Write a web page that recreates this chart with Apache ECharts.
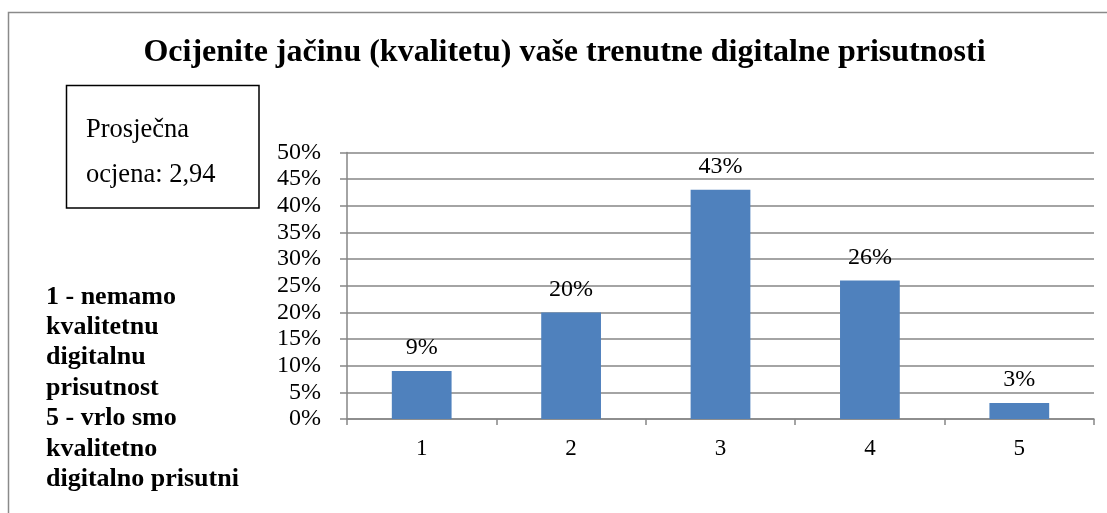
<!DOCTYPE html>
<html>
<head>
<meta charset="utf-8">
<script src="https://cdn.jsdelivr.net/npm/echarts@6/dist/echarts.min.js"></script>
<style>
  html, body { margin: 0; padding: 0; background: #fff; }
  #chart { width: 1107px; height: 513px; }
</style>
</head>
<body>
<div id="chart"></div>
<script>
// Survey: self-rated strength of current digital presence (1-5 scale)
const categories = ['1', '2', '3', '4', '5'];
const shares = [9, 20, 43, 26, 3];
const yTicks = { min: 0, max: 50, interval: 5 };
const titleText = 'Ocijenite jačinu (kvalitetu) vaše trenutne digitalne prisutnosti';
const averageLines = ['Prosječna', 'ocjena: 2,94'];
const scaleNote = ['1 - nemamo', 'kvalitetnu', 'digitalnu', 'prisutnost', '5 - vrlo smo', 'kvalitetno', 'digitalno prisutni'];

const serif = '"Liberation Serif", "Times New Roman", serif';
const gridColor = '#868686';

const chart = echarts.init(document.getElementById('chart'), null, { renderer: 'canvas' });

chart.setOption({
  backgroundColor: '#fff',
  animation: false,
  grid: { left: 347, right: 13, top: 152.5, bottom: 94, containLabel: false },
  xAxis: {
    type: 'category',
    data: categories,
    axisLine: { show: true, lineStyle: { color: gridColor, width: 1.5 } },
    axisTick: { show: true, length: 6, alignWithLabel: false, lineStyle: { color: gridColor, width: 1.5 } },
    axisLabel: { color: '#000', fontFamily: serif, fontSize: 23, margin: 18 }
  },
  yAxis: {
    type: 'value',
    min: yTicks.min,
    max: yTicks.max,
    interval: yTicks.interval,
    axisLine: { show: true, lineStyle: { color: gridColor, width: 1.5 } },
    axisTick: { show: true, length: 7, lineStyle: { color: gridColor, width: 1.5 } },
    splitLine: { show: true, lineStyle: { color: gridColor, width: 1.5 } },
    axisLabel: { color: '#000', fontFamily: serif, fontSize: 24, margin: 26, formatter: '{value}%' }
  },
  series: [{
    type: 'bar',
    data: shares,
    barCategoryGap: '60%',
    itemStyle: { color: '#4F81BD' },
    label: {
      show: true,
      position: 'top',
      distance: 11,
      color: '#000',
      fontFamily: serif,
      fontSize: 24,
      formatter: '{c}%'
    }
  }],
  graphic: [
    {
      type: 'rect',
      shape: { x: 8.5, y: 12.5, width: 1110, height: 520 },
      style: { fill: 'none', stroke: '#8a8a8a', lineWidth: 1.5 },
      silent: true
    },
    {
      type: 'text',
      x: 564.5,
      y: 53,
      style: {
        text: titleText,
        fill: '#000',
        font: 'bold 32px ' + serif,
        textAlign: 'center',
        textVerticalAlign: 'middle'
      }
    },
    {
      type: 'rect',
      shape: { x: 66.5, y: 85.5, width: 192.5, height: 122.5 },
      style: { fill: '#fff', stroke: '#000', lineWidth: 1.5 }
    },
    {
      type: 'text',
      x: 86,
      y: 130,
      style: { text: averageLines[0], fill: '#000', font: '26.5px ' + serif, textAlign: 'left', textVerticalAlign: 'middle' }
    },
    {
      type: 'text',
      x: 86,
      y: 175,
      style: { text: averageLines[1], fill: '#000', font: '26.5px ' + serif, textAlign: 'left', textVerticalAlign: 'middle' }
    },
    {
      type: 'text',
      x: 46,
      y: 388,
      style: {
        text: scaleNote.join('\n'),
        fill: '#000',
        font: 'bold 26px ' + serif,
        lineHeight: 30.4,
        textAlign: 'left',
        textVerticalAlign: 'middle'
      }
    }
  ]
});
</script>
</body>
</html>
